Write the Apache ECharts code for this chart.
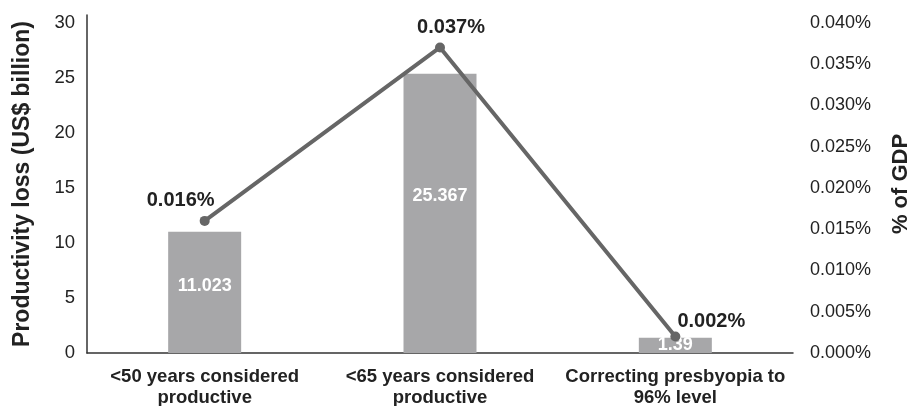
<!DOCTYPE html>
<html>
<head>
<meta charset="utf-8">
<script src="https://cdn.jsdelivr.net/npm/echarts@6/dist/echarts.min.js"></script>
<style>
html, body { margin: 0; padding: 0; background: #fff; }
#chart { width: 912px; height: 406px; }
</style>
</head>
<body>
<div id="chart"></div>
<script>
var categories = ['<50 years considered\nproductive', '<65 years considered\nproductive', 'Correcting presbyopia to\n96% level'];
var lossValues = [11.023, 25.367, 1.39];
var gdpValues = [0.016, 0.037, 0.002];
// label nudges (px)
var lossLabelOffsets = [-6, -17, 0];
var gdpLabelOffsets = [[-24, -20], [11, -20], [36, -15]];

var font = 'Liberation Sans, Arial, sans-serif';

var chart = echarts.init(document.getElementById('chart'));

var barData = lossValues.map(function(v, i) {
    return { value: v, label: { offset: [0, lossLabelOffsets[i]] } };
});
var lineData = gdpValues.map(function(v, i) {
    return { value: v, label: { offset: gdpLabelOffsets[i] } };
});

chart.setOption({
    animation: false,
    textStyle: { fontFamily: font },
    grid: { left: 87, right: 119, top: 15, bottom: 53, outerBoundsMode: 'none' },
    xAxis: {
        type: 'category',
        data: categories,
        axisLine: { lineStyle: { color: '#333', width: 1.5 } },
        axisTick: { show: false },
        axisLabel: {
            color: '#222', fontSize: 18.5, fontWeight: 'bold', fontFamily: font,
            lineHeight: 20.5, margin: 14, interval: 0
        }
    },
    yAxis: [{
        type: 'value',
        min: 0,
        max: 30.7,
        interval: 5,
        name: 'Productivity loss (US$ billion)',
        nameLocation: 'middle',
        nameGap: 53,
        nameTextStyle: { color: '#222', fontSize: 23, fontWeight: 'bold', fontFamily: font },
        axisLine: { show: true, lineStyle: { color: '#333', width: 1.5 } },
        axisTick: { show: false },
        splitLine: { show: false },
        axisLabel: {
            color: '#222', fontSize: 18.5, margin: 12, fontFamily: font,
            formatter: function(v) { return v % 5 === 0 ? String(v) : ''; }
        }
    }, {
        type: 'value',
        min: 0,
        max: 0.04 * 30.7 / 30,
        interval: 0.005,
        name: '% of GDP',
        nameLocation: 'middle',
        nameGap: 97,
        nameRotate: 90,
        nameTextStyle: { color: '#222', fontSize: 22, fontWeight: 'bold', fontFamily: font },
        axisLine: { show: false },
        axisTick: { show: false },
        splitLine: { show: false },
        axisLabel: {
            color: '#222', fontSize: 18, margin: 17, fontFamily: font,
            formatter: function(v) {
                var k = Math.round(v * 1000);
                if (Math.abs(v * 1000 - k) > 1e-6 || k % 5 !== 0) return '';
                return v.toFixed(3) + '%';
            }
        }
    }],
    series: [{
        type: 'bar',
        yAxisIndex: 0,
        data: barData,
        barWidth: 73,
        itemStyle: { color: '#a7a7a9' },
        label: {
            show: true, position: 'inside', color: '#fff',
            fontSize: 18, fontWeight: 'bold', fontFamily: font
        }
    }, {
        type: 'line',
        yAxisIndex: 1,
        data: lineData,
        symbol: 'circle',
        symbolSize: 10,
        itemStyle: { color: '#666' },
        lineStyle: { color: '#666', width: 4 },
        label: {
            show: true, position: 'inside', color: '#222',
            fontSize: 20, fontWeight: 'bold', fontFamily: font,
            formatter: function(p) { return p.value.toFixed(3) + '%'; }
        }
    }]
});
</script>
</body>
</html>
